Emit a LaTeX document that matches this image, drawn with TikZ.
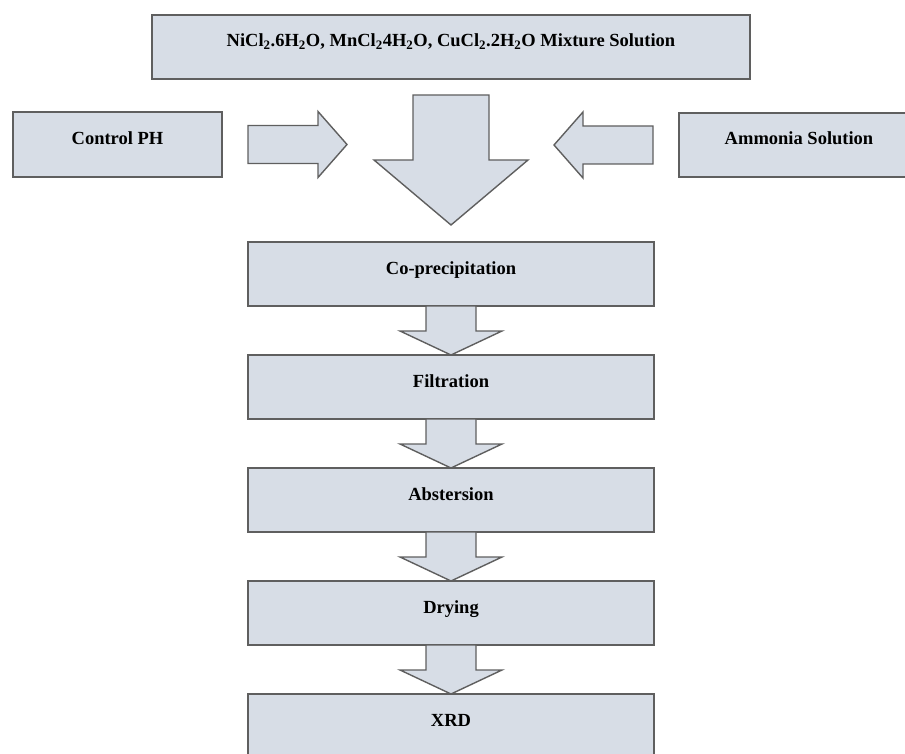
\documentclass[tikz,border=0pt]{standalone}
\usepackage{fontspec}
\setmainfont{Liberation Serif}
\definecolor{boxfill}{RGB}{215,221,230}
\definecolor{boxline}{RGB}{95,95,95}

\begin{document}
\begin{tikzpicture}[x=1pt,y=-1pt,
  procbox/.style={draw=boxline, fill=boxfill, line width=1.8pt,
    minimum width=406pt, minimum height=64pt, inner sep=0pt, outer sep=0pt,
    text height=13pt, text depth=13pt,
    font=\fontsize{18.5}{20}\selectfont\bfseries},
  blockarrow/.style={draw=boxline, fill=boxfill, line width=1.4pt, line join=miter}]
  \useasboundingbox (0,0) rectangle (905,754);
  % input boxes
  \node[procbox, minimum width=598pt] (mix) at (451,47)
    {NiCl\textsubscript{2}.6H\textsubscript{2}O, MnCl\textsubscript{2}4H\textsubscript{2}O, CuCl\textsubscript{2}.2H\textsubscript{2}O Mixture Solution};
  \node[procbox, minimum width=209pt, minimum height=65pt] (ctrl) at (117.5,144.5) {Control PH};
  \node[procbox, minimum width=240pt] (ammonia) at (799,145) {Ammonia Solution};
  % process steps
  \node[procbox] (coprec) at (451,274) {Co-precipitation};
  \node[procbox] (filtr) at (451,387) {Filtration};
  \node[procbox] (abst) at (451,500) {Abstersion};
  \node[procbox] (dry) at (451,613) {Drying};
  \node[procbox] (xrd) at (451,726) {XRD};
  % big arrows
  \draw[blockarrow] ([yshift=-16]mix.south) ++(-38,0) -- ++(0,65) -- ++(-39,0)
    -- ([yshift=17]coprec.north) -- ++(77,-65) -- ++(-39,0) -- ++(0,-65) -- cycle;
  \draw[blockarrow] ([xshift=26]ctrl.east) ++(0,-19) -- ++(70,0) -- ++(0,-14)
    -- ++(29,33) -- ++(-29,33) -- ++(0,-14) -- ++(-70,0) -- cycle;
  \draw[blockarrow] ([xshift=-26]ammonia.west) ++(0,-19) -- ++(-70,0) -- ++(0,-14)
    -- ++(-29,33) -- ++(29,33) -- ++(0,-14) -- ++(70,0) -- cycle;
  % small arrows
  \foreach \a/\b in {coprec/filtr, filtr/abst, abst/dry, dry/xrd}
    \draw[blockarrow] (\a.south) ++(-25,0) -- ++(0,25) -- ++(-26,0) -- (\b.north)
      -- ++(51,-24) -- ++(-26,0) -- ++(0,-25) -- cycle;
\end{tikzpicture}
\end{document}
